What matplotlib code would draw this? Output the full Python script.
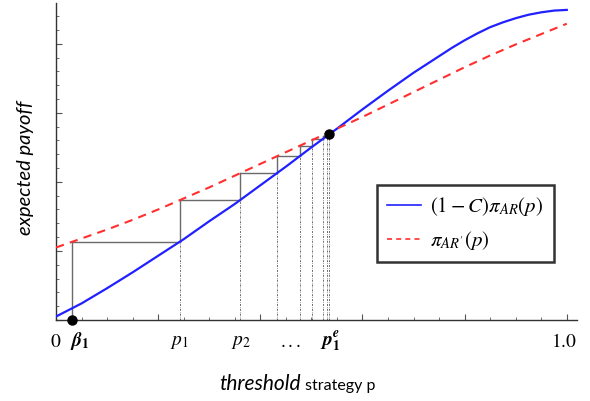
import numpy as np
import matplotlib
matplotlib.use("Agg")
import matplotlib.pyplot as plt
from matplotlib.ticker import MultipleLocator
from matplotlib.lines import Line2D

plt.rcParams['mathtext.fontset'] = 'stix'

# ---- data ----
blue_p = [0.00, 0.05, 0.10, 0.15, 0.20, 0.25, 0.30, 0.35, 0.40, 0.45, 0.50,
          0.55, 0.60, 0.65, 0.70, 0.725, 0.75, 0.775, 0.80, 0.825, 0.85, 0.875,
          0.90, 0.925, 0.95, 0.975, 1.00]
blue_vals = [0.005, 0.024, 0.046, 0.069, 0.093, 0.117, 0.143, 0.168, 0.195, 0.222, 0.250,
             0.277, 0.305, 0.332, 0.358, 0.370, 0.382, 0.394, 0.405, 0.415, 0.424, 0.431,
             0.437, 0.442, 0.4455, 0.448, 0.449]
red_p = [0.00, 0.05, 0.10, 0.15, 0.20, 0.25, 0.30, 0.35, 0.40, 0.45, 0.50,
         0.55, 0.60, 0.65, 0.70, 0.75, 0.80, 0.85, 0.90, 0.95, 1.00]
red_vals = [0.105, 0.118, 0.131, 0.145, 0.160, 0.176, 0.192, 0.209, 0.226, 0.243, 0.260,
            0.277, 0.294, 0.312, 0.330, 0.348, 0.366, 0.383, 0.399, 0.414, 0.429]

stair_p = [0.031, 0.243, 0.361, 0.433, 0.478, 0.502, 0.522, 0.530]
stair_levels = [0.113, 0.174, 0.213, 0.238, 0.252, 0.262, 0.267, 0.270]

beta1 = 0.031
p1e = (0.534, 0.270)

tick_pos = [0.0, 0.047, 0.242, 0.363, 0.459, 0.537, 0.995]
tick_labels = [r"$0$", r"$\mathbfit{\beta}_{\mathbf{1}}$", r"$p_1$", r"$p_2$", r"$...$",
               r"$\mathbfit{p}_{\mathbf{1}}^{\mathbfit{e}}$", r"$1.0$"]

legend_labels = [r"$(1-C)\pi_{AR}(p)$", r"$\pi_{AR'}(p)$"]

W, H = 590, 401
fig = plt.figure(figsize=(W / 100, H / 100), dpi=100)
ax = fig.add_axes([56 / W, 1 - 320 / H, (577 - 56) / W, (320 - 3) / H])
ax.set_xlim(0, 1.02)
ax.set_ylim(0, 0.459)

gray = '#6a6a6a'
dotstyle = (0, (2, 1.2, 0.6, 1.2))
n = len(stair_p)
for k in range(n):
    lo = 0.0 if k == 0 else stair_levels[k - 1]
    ax.plot([stair_p[k], stair_p[k]], [lo, stair_levels[k]], color=gray, lw=1.0, zorder=2)
    if k > 0:
        ax.plot([stair_p[k], stair_p[k]], [0, lo], color=gray, lw=0.7,
                linestyle=dotstyle, zorder=1)
    if k < n - 1:
        ax.plot([stair_p[k], stair_p[k + 1]], [stair_levels[k]] * 2, color=gray, lw=1.0, zorder=2)
ax.plot([p1e[0], p1e[0]], [0, p1e[1]], color=gray, lw=0.7, linestyle=dotstyle, zorder=1)

ax.plot(blue_p, blue_vals, color='#2121ff', lw=1.6, zorder=3, solid_joinstyle='round')
ax.plot(red_p, red_vals, color='#ff2f2f', lw=1.5, linestyle=(0, (4, 3)), zorder=3)

ax.plot([p1e[0]], [p1e[1]], 'o', color='black', ms=6.5, zorder=5)
ax.plot([beta1], [0], 'o', color='black', ms=6.5, zorder=5, clip_on=False)

for s in ['top', 'right']:
    ax.spines[s].set_visible(False)
for s in ['left', 'bottom']:
    ax.spines[s].set_color('#333333')
    ax.spines[s].set_linewidth(1.0)
ax.xaxis.set_major_locator(MultipleLocator(0.2))
ax.xaxis.set_minor_locator(MultipleLocator(0.05))
ax.yaxis.set_major_locator(MultipleLocator(0.1))
ax.yaxis.set_minor_locator(MultipleLocator(0.02))
ax.tick_params(which='both', direction='in', labelbottom=False, labelleft=False, color='#555555')
ax.tick_params(which='major', length=4, width=0.8)
ax.tick_params(which='minor', length=2.2, width=0.6)

for pos, lab in zip(tick_pos, tick_labels):
    ax.text(pos, -0.031, lab, ha='center', va='center', fontsize=14, clip_on=False)

fig.text(301 / W, 1 - 390 / H, "threshold", ha='right', va='baseline',
         fontsize=15, style='italic', family='Lato')
fig.text(305 / W, 1 - 390 / H, "strategy p", ha='left', va='baseline',
         fontsize=11.5, family='Lato')
fig.text(25 / W, 1 - 168 / H, "expected payoff", ha='center', va='center',
         rotation=90, fontsize=14.5, style='italic', family='Lato')

handles = [Line2D([], [], color='#2121ff', lw=1.2),
           Line2D([], [], color='#ff2f2f', lw=1.2, linestyle=(0, (3, 2.5)))]
leg = ax.legend(handles, legend_labels, loc='upper left',
                bbox_to_anchor=(377 / W, 1 - 185 / H), bbox_transform=fig.transFigure,
                fontsize=15, frameon=True, fancybox=False, handlelength=1.6,
                handletextpad=0.45, borderpad=0.5, labelspacing=0.5, borderaxespad=0)
leg.get_frame().set_edgecolor('black')
leg.get_frame().set_linewidth(1.8)

fig.savefig('out.png', dpi=100)
